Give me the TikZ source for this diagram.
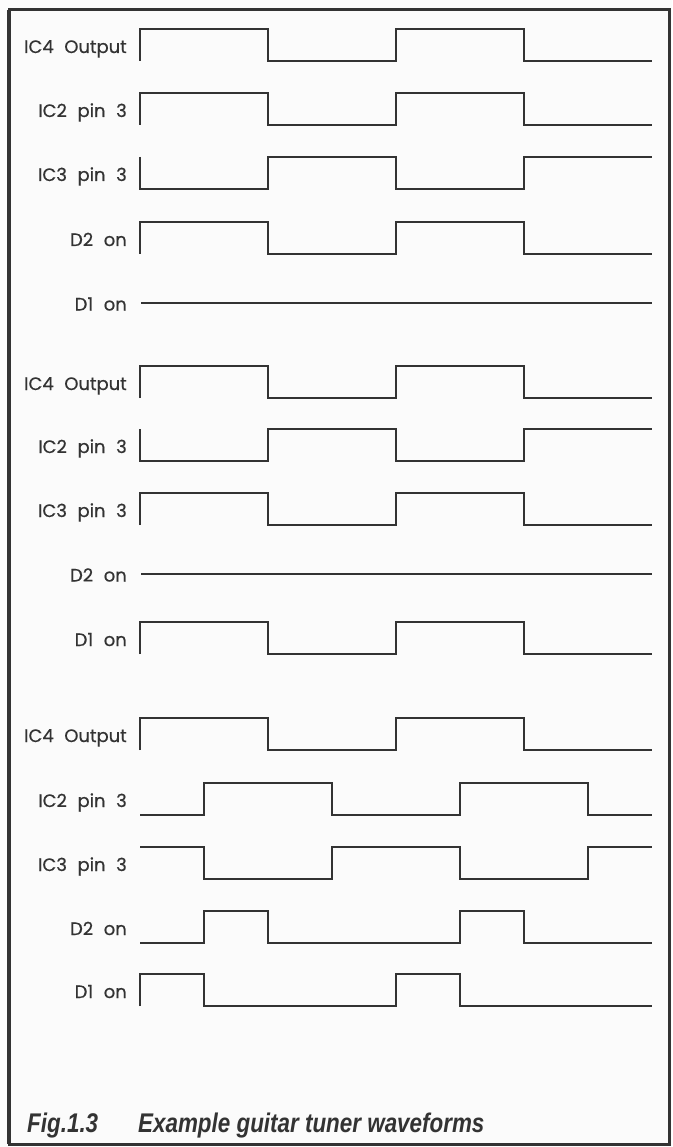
\documentclass[tikz,border=0pt]{standalone}
\usepackage{fontspec}
\usepackage{graphicx}
\newfontfamily\lblfont[WordSpace=2.2, FakeBold=0.6]{Poppins}
\newfontfamily\capfont{Liberation Sans}
\definecolor{tunink}{HTML}{333333}
\definecolor{tunpaper}{HTML}{FBFBFB}
\newcommand{\narrowcap}[1]{\scalebox{0.83}[1]{#1}}
\tikzset{
  wave/.style={line width=2.4pt, color=tunink, line join=miter},
  sig/.style={anchor=base east, inner sep=0pt, font=\lblfont\fontsize{18}{20}\selectfont, color=tunink},
  captxt/.style={anchor=base west, inner sep=0pt, font=\capfont\bfseries\itshape\fontsize{27}{30}\selectfont, color=tunink},
  frm/.style={line width=3pt, color=tunink},
}
\begin{document}
\begin{tikzpicture}[x=1pt, y=-1pt]
  \useasboundingbox[fill=tunpaper] (0,0) rectangle (672,1147);
  \draw[frm] (9,10) rectangle (669,1144);
  \draw[frm, line width=4.5pt] (9,10) -- (9,1144);
  % square-wave traces: name/top/start level/levels per quarter/label
  \foreach \nm/\y/\s/\lv/\tx in {
      a1/29/0/{1,1,0,0,1,1,0,0}/{IC4 Output},
      a2/93/0/{1,1,0,0,1,1,0,0}/{IC2 pin 3},
      a3/157/1/{0,0,1,1,0,0,1,1}/{IC3 pin 3},
      a4/222/0/{1,1,0,0,1,1,0,0}/{D2 on},
      b1/366/0/{1,1,0,0,1,1,0,0}/{IC4 Output},
      b2/429/1/{0,0,1,1,0,0,1,1}/{IC2 pin 3},
      b3/493/0/{1,1,0,0,1,1,0,0}/{IC3 pin 3},
      b5/622/0/{1,1,0,0,1,1,0,0}/{D1 on},
      c1/718/0/{1,1,0,0,1,1,0,0}/{IC4 Output},
      c2/783/0/{0,1,1,0,0,1,1,0}/{IC2 pin 3},
      c3/847/1/{1,0,0,1,1,0,0,1}/{IC3 pin 3},
      c4/911/0/{0,1,0,0,0,1,0,0}/{D2 on},
      c5/974/0/{1,0,0,0,1,0,0,0}/{D1 on}}
  {
    \node[sig] (\nm) at (127,{\y+24}) {\tx};
    \draw[wave] (140,{\y+32*(1-\s)}) foreach \l [count=\i from 0] in \lv
      {-- ({140+64*\i},{\y+32*(1-\l)}) -- ({204+64*\i},{\y+32*(1-\l)})};
  }
  % flat traces
  \foreach \nm/\y/\tx in {a5/303/{D1 on}, b4/574/{D2 on}}
  {
    \node[sig] (\nm) at (127,{\y+7.5}) {\tx};
    \draw[wave] (141,\y) -- (652,\y);
  }
  \node[captxt] (fig) at (27,1132) {\narrowcap{Fig.1.3}};
  \node[captxt] (title) at (138,1132) {\narrowcap{Example guitar tuner waveforms}};
\end{tikzpicture}
\end{document}
